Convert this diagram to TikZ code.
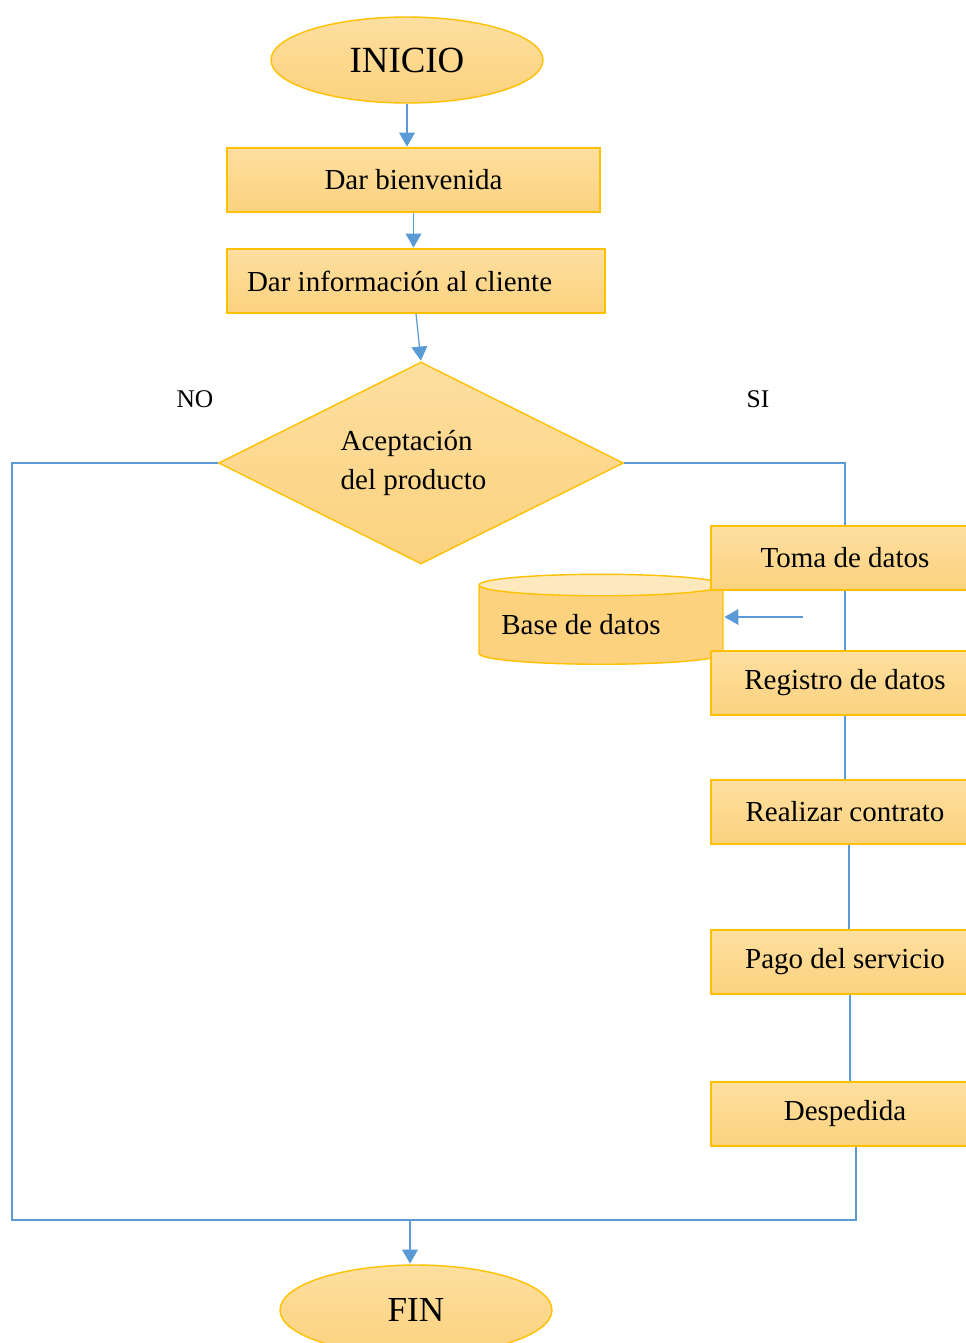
\documentclass[tikz,border=0pt]{standalone}
\usepackage{fontspec}
\setmainfont{Liberation Serif}
\usetikzlibrary{shapes.geometric, arrows.meta}
\definecolor{boxtop}{RGB}{253,223,160}
\definecolor{boxbot}{RGB}{252,210,126}
\definecolor{boxend}{RGB}{254,233,190}
\definecolor{boxline}{RGB}{255,192,0}
\definecolor{flow}{RGB}{91,155,213}
\tikzset{
  caja/.style={draw=boxline, line width=0.8pt, top color=boxtop, bottom color=boxbot,
    minimum height=1.28cm, inner sep=0pt, font=\fontsize{16.5}{20}\selectfont},
  ovalo/.style={ellipse, draw=boxline, line width=0.8pt, top color=boxtop, bottom color=boxbot,
    minimum width=5.44cm, inner sep=0pt, font=\fontsize{21}{24}\selectfont},
  rombo/.style={diamond, draw=boxline, line width=0.8pt, top color=boxtop, bottom color=boxbot,
    minimum width=8.1cm, minimum height=4.04cm, inner sep=0pt, align=flush left,
    font=\fontsize{16.5}{22}\selectfont},
  bd/.style={cylinder, shape border rotate=90, aspect=0.18, draw=boxline, line width=0.8pt,
    cylinder uses custom fill, cylinder body fill=boxbot, cylinder end fill=boxend,
    minimum width=4.88cm, minimum height=1.8cm, inner sep=0pt, font=\fontsize{16.5}{20}\selectfont},
  etiq/.style={inner sep=0pt, font=\fontsize{14.5}{17}\selectfont},
  linea/.style={draw=flow, line width=0.7pt},
  flecha/.style={linea, -{Triangle[width=9pt,length=8pt]}, shorten >=0.4pt}
}
\begin{document}
\begin{tikzpicture}[x=0.02cm, y=-0.02cm]
        \clip (0,0) rectangle (966,1343);
        \coordinate (izq) at (12,1220);
        \coordinate (union) at (410,1220);
        \coordinate (dato) at (803,617);

        \node[ovalo, minimum height=1.72cm] (inicio) at (407,60) {INICIO};
        \node[caja, minimum width=7.46cm] (bienv) at (413.5,180) {Dar bienvenida};
        \node[caja, inner xsep=0.4cm] (info) at (416,281) {\makebox[6.76cm][l]{Dar información al cliente}};
        \node[rombo] (acept) at (421,463) {\hspace*{-0.3cm}Aceptación\\\hspace*{-0.3cm}del producto};
        \node[etiq] (no) at (195,399) {NO};
        \node[etiq] (si) at (758,399) {SI};

        \node[bd] (base) at (601,625) {\hspace*{-0.8cm}Base de datos};
        \node[caja, minimum width=5.36cm] (toma) at (845,558) {Toma de datos};
        \node[caja, minimum width=5.36cm] (registro) at (845,683) {Registro de datos};
        \node[caja, minimum width=5.36cm] (contrato) at (845,812) {Realizar contrato};
        \node[caja, minimum width=5.36cm] (pago) at (845,962) {Pago del servicio};
        \node[caja, minimum width=5.36cm] (despedida) at (845,1114) {Despedida};
        \node[ovalo, minimum height=1.8cm, font=\fontsize{20}{24}\selectfont] (fin) at (416,1310) {FIN};

        \draw[flecha] (inicio.south) -- (inicio.south |- bienv.north);
        \draw[flecha] (bienv.south) -- (bienv.south |- info.north);
        \draw[flecha] (info.south) -- (acept.north);

        \draw[linea] (acept.west) -| (izq) -- (union);
        \draw[linea] (acept.east) -| (toma.north);
        \draw[linea] (toma) -- (registro);
        \draw[linea] (registro) -- (contrato);
        \draw[linea] ([xshift=0.08cm]contrato.south) -- ([xshift=0.08cm]pago.north);
        \draw[linea] ([xshift=0.1cm]pago.south) -- ([xshift=0.1cm]despedida.north);
        \draw[linea] ([xshift=0.22cm]despedida.south) |- (union);
        \draw[flecha] (union) -- (union |- fin.north);
        \draw[flecha] (dato) -- (dato -| base.east);
    \end{tikzpicture}
\end{document}
